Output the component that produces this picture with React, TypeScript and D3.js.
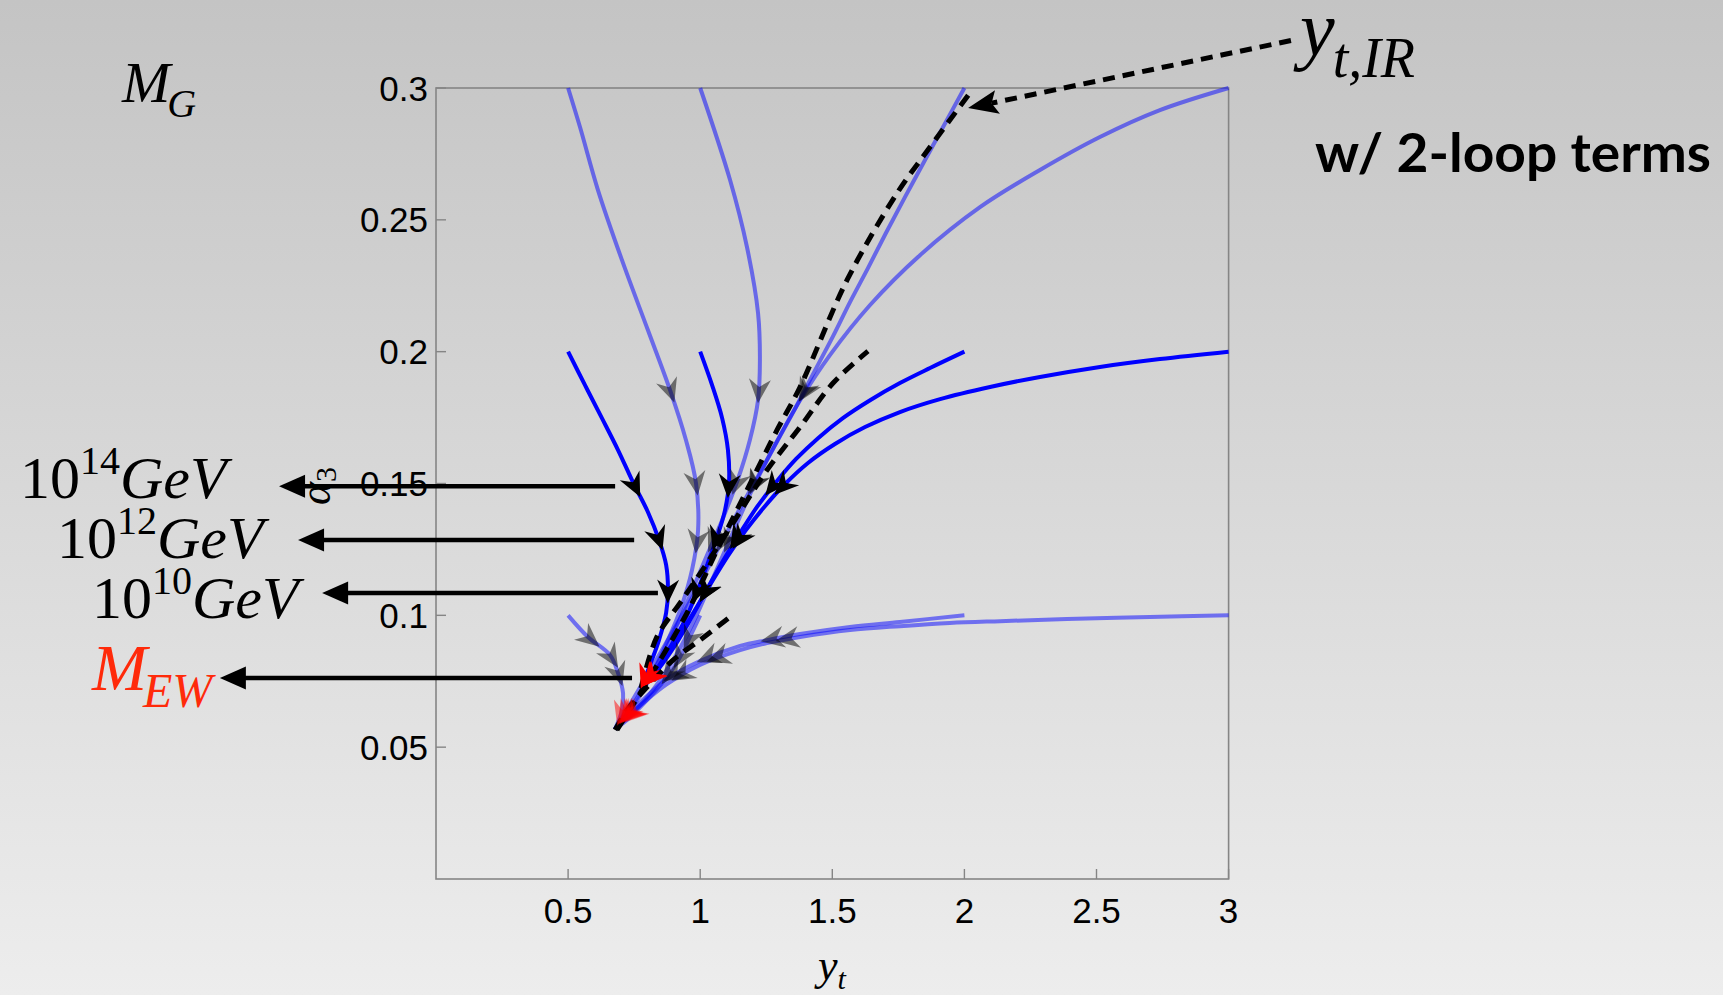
import React, { useEffect, useRef } from "react";
import * as d3 from "d3";

const W = 1723;
const H = 995;

const xTicks = [0.5, 1, 1.5, 2, 2.5, 3];
const xTickLabels = ["0.5", "1", "1.5", "2", "2.5", "3"];
const yTicks = [0.05, 0.1, 0.15, 0.2, 0.25, 0.3];
const yTickLabels = ["0.05", "0.1", "0.15", "0.2", "0.25", "0.3"];

// RG flows starting at alpha3(M_G) = 0.2 (solid blue)
const dark1 = [[0.5, 0.2], [0.564, 0.1873], [0.628, 0.1748], [0.689, 0.1627], [0.749, 0.1498], [0.802, 0.1392], [0.844, 0.1286], [0.871, 0.1191], [0.878, 0.1096], [0.871, 0.1009], [0.844, 0.0906], [0.810, 0.0812], [0.776, 0.0724]];
const dark2 = [[1.0, 0.2], [1.045, 0.1873], [1.083, 0.1748], [1.105, 0.1627], [1.109, 0.1502], [1.094, 0.1399], [1.064, 0.1297], [1.026, 0.1191], [0.988, 0.1088], [0.942, 0.0982], [0.889, 0.0884], [0.833, 0.0793], [0.776, 0.0724]];
const dark3 = [[2.0, 0.2], [1.870, 0.1938], [1.756, 0.1881], [1.643, 0.1816], [1.540, 0.1748], [1.446, 0.1672], [1.363, 0.1593], [1.287, 0.1505], [1.215, 0.1411], [1.151, 0.1312], [1.086, 0.1206], [1.022, 0.1092], [0.958, 0.0975], [0.893, 0.0868], [0.833, 0.0785], [0.776, 0.0724]];
const dark4 = [[3.0, 0.2], [2.740, 0.1972], [2.513, 0.1942], [2.286, 0.1904], [2.097, 0.1866], [1.908, 0.1820], [1.756, 0.1771], [1.624, 0.1714], [1.510, 0.1650], [1.408, 0.1578], [1.321, 0.1498], [1.245, 0.1414], [1.173, 0.1323], [1.105, 0.1225], [1.037, 0.1115], [0.969, 0.1001], [0.897, 0.0884], [0.833, 0.0789], [0.776, 0.0724]];

// flows starting at alpha3(M_G) = 0.3 (translucent)
const lightA = [[0.5, 0.3], [0.545, 0.2852], [0.613, 0.2613], [0.704, 0.2347], [0.802, 0.2082], [0.886, 0.1854], [0.946, 0.1665], [0.984, 0.1502], [0.992, 0.1323], [0.969, 0.1172], [0.931, 0.1039], [0.878, 0.0906], [0.810, 0.0762], [0.742, 0.0648], [0.678, 0.0569]];
const lightB = [[1.0, 0.3], [1.113, 0.2651], [1.177, 0.2397], [1.219, 0.2146], [1.226, 0.1968], [1.219, 0.1817], [1.188, 0.1665], [1.143, 0.1517], [1.083, 0.1361], [1.018, 0.1210], [0.954, 0.1058], [0.878, 0.0887], [0.791, 0.0736], [0.727, 0.0633], [0.678, 0.0569]];
const lightC = [[2.0, 0.3], [1.923, 0.2859], [1.851, 0.2727], [1.775, 0.2586], [1.703, 0.2450], [1.635, 0.2317], [1.567, 0.2188], [1.503, 0.2059], [1.435, 0.1930], [1.366, 0.1797], [1.294, 0.1665], [1.219, 0.1528], [1.143, 0.1392], [1.067, 0.1251], [0.992, 0.1107], [0.912, 0.0967], [0.833, 0.0830], [0.753, 0.0694], [0.678, 0.0569]];
const lightD = [[3.0, 0.3], [2.740, 0.2916], [2.513, 0.2814], [2.286, 0.2689], [2.059, 0.2548], [1.832, 0.2366], [1.643, 0.2177], [1.491, 0.1987], [1.378, 0.1816], [1.283, 0.1646], [1.196, 0.1475], [1.120, 0.1305], [1.045, 0.1134], [0.969, 0.0963], [0.886, 0.0812], [0.791, 0.0679], [0.678, 0.0569]];

// flows starting at alpha3(M_G) = 0.1 (translucent)
const low1 = [[0.5, 0.1], [0.575, 0.0918], [0.659, 0.0849], [0.689, 0.0781], [0.708, 0.0705], [0.704, 0.0641], [0.678, 0.0569]];
const low2 = [[1.0, 0.1], [0.961, 0.0918], [0.924, 0.0842], [0.874, 0.0766], [0.799, 0.0679], [0.723, 0.0603], [0.678, 0.0569]];
const low3 = [[2.0, 0.1], [1.756, 0.0975], [1.567, 0.0956], [1.378, 0.0929], [1.253, 0.0906], [1.151, 0.0884], [0.999, 0.0827], [0.874, 0.0758], [0.783, 0.0679], [0.715, 0.0614], [0.678, 0.0569]];
const low4 = [[3.0, 0.1], [2.702, 0.0994], [2.388, 0.0986], [2.135, 0.0978], [1.945, 0.0971], [1.756, 0.0959], [1.567, 0.0944], [1.378, 0.0918], [1.253, 0.0895], [1.151, 0.0868], [0.999, 0.0812], [0.874, 0.0739], [0.783, 0.0667], [0.715, 0.0607], [0.678, 0.0569]];

// IR quasi-fixed lines (dashed)
const ir03 = [[0.685, 0.0565], [0.810, 0.0766], [0.950, 0.1009], [1.064, 0.1248], [1.177, 0.1475], [1.291, 0.1703], [1.378, 0.1866], [1.556, 0.2272], [1.745, 0.2601], [1.870, 0.2776], [2.029, 0.2992]];
const ir02 = [[0.776, 0.0724], [0.836, 0.0918], [0.924, 0.1047], [1.026, 0.1198], [1.124, 0.1350], [1.253, 0.1551], [1.378, 0.1714], [1.503, 0.1881], [1.635, 0.2002]];
const ir01 = [[0.678, 0.0565], [0.723, 0.0641], [0.799, 0.0728], [0.897, 0.0830], [0.999, 0.0906], [1.113, 0.0994]];

const darkArrowLevels = [0.149, 0.129, 0.109];
const darkEndLevel = 0.0765;
const light03ArrowLevels = [0.185, 0.150, 0.128];
const light01ArrowLevels = [0.091, 0.084, 0.0775];
const lightEndLevel = 0.0625;

// scale annotation arrows (alpha level, tail yt, tip yt)
const scaleExponents = ["14", "12", "10"];
const scaleLevels = [0.149, 0.1286, 0.1085, 0.0762];
const scaleArrowTail = [0.678, 0.75, 0.84, 0.742];
const scaleArrowTip = [-0.594, -0.522, -0.431, -0.818];

// y_t,IR pointer (from label to line end), in data units
const irPointerFrom = [3.236, 0.318];
const irPointerTo = [2.014, 0.2924];

const SERIF = "'Liberation Serif', 'Times New Roman', serif";
const SANS = "'Liberation Sans', Arial, sans-serif";

export default function App() {
  const ref = useRef<SVGSVGElement | null>(null);

  useEffect(() => {
    const svg = d3.select(ref.current);
    svg.selectAll("*").remove();

    const x = d3.scaleLinear().domain([0, 3]).range([436, 1228.6]);
    const y = d3.scaleLinear().domain([0, 0.3]).range([879, 88]);

    const defs = svg.append("defs");
    const grad = defs.append("linearGradient").attr("id", "bg").attr("x1", 0).attr("y1", 0).attr("x2", 0).attr("y2", 1);
    grad.append("stop").attr("offset", "0%").attr("stop-color", "#c4c4c4");
    grad.append("stop").attr("offset", "100%").attr("stop-color", "#ededed");
    svg.append("rect").attr("width", W).attr("height", H).attr("fill", "url(#bg)");

    // frame
    svg.append("rect")
      .attr("x", x(0)).attr("y", y(0.3))
      .attr("width", x(3) - x(0)).attr("height", y(0) - y(0.3))
      .attr("fill", "none").attr("stroke", "#858585").attr("stroke-width", 1.6);

    const tickG = svg.append("g").attr("stroke", "#858585").attr("stroke-width", 1.4);
    yTicks.forEach((t) => {
      tickG.append("line").attr("x1", x(0)).attr("x2", x(0) + 10).attr("y1", y(t)).attr("y2", y(t));
    });
    xTicks.forEach((t) => {
      tickG.append("line").attr("x1", x(t)).attr("x2", x(t)).attr("y1", y(0)).attr("y2", y(0) - 10);
    });

    yTicks.forEach((t, i) => {
      svg.append("text").attr("x", x(0) - 8).attr("y", y(t) + 12.5)
        .attr("text-anchor", "end").attr("font-family", SANS).attr("font-size", 35)
        .attr("fill", "#000").text(yTickLabels[i]);
    });
    xTicks.forEach((t, i) => {
      svg.append("text").attr("x", x(t)).attr("y", 923)
        .attr("text-anchor", "middle").attr("font-family", SANS).attr("font-size", 35)
        .attr("fill", "#000").text(xTickLabels[i]);
    });

    // axis labels
    const xl = svg.append("text").attr("x", 832).attr("y", 980).attr("text-anchor", "middle")
      .attr("font-family", SERIF).attr("font-style", "italic").attr("font-size", 44);
    xl.append("tspan").text("y");
    xl.append("tspan").attr("font-size", 30).attr("dy", 9).text("t");

    const yl = svg.append("text").attr("transform", "translate(330,486) rotate(-90)")
      .attr("text-anchor", "middle").attr("font-family", SERIF).attr("font-size", 44);
    yl.append("tspan").attr("font-style", "italic").text("α");
    yl.append("tspan").attr("font-size", 30).attr("dy", 6).text("3");

    // curves
    const line = d3.line<number[]>().x((d) => x(d[0])).y((d) => y(d[1])).curve(d3.curveCatmullRom.alpha(0.5));
    const curvesG = svg.append("g");
    const arrowsG = svg.append("g");

    const drawCurve = (g: any, data: number[][], stroke: string, opacity: number, width: number, dash?: string) => {
      const p = g.append("path").attr("d", line(data as any)).attr("fill", "none")
        .attr("stroke", stroke).attr("stroke-opacity", opacity).attr("stroke-width", width)
        .attr("stroke-linecap", "butt").attr("stroke-linejoin", "round");
      if (dash) p.attr("stroke-dasharray", dash);
      return p.node() as SVGPathElement;
    };

    const at = (node: SVGPathElement, level: number) => {
      const ty = y(level);
      const total = node.getTotalLength();
      let lo = 0, hi = total;
      for (let i = 0; i < 40; i++) {
        const mid = (lo + hi) / 2;
        const p = node.getPointAtLength(mid);
        if (p.y < ty) lo = mid; else hi = mid;
      }
      const l = (lo + hi) / 2;
      const p = node.getPointAtLength(l);
      const p1 = node.getPointAtLength(Math.max(0, l - 3));
      const p2 = node.getPointAtLength(Math.min(total, l + 3));
      return { x: p.x, y: p.y, a: (Math.atan2(p2.y - p1.y, p2.x - p1.x) * 180) / Math.PI };
    };

    const head = (node: SVGPathElement, level: number, fill: string, opacity: number) => {
      const q = at(node, level);
      const L = 24, Wd = 22;
      arrowsG.append("path")
        .attr("d", `M${L / 2},0L${-L / 2},${-Wd / 2}L${-L * 0.18},0L${-L / 2},${Wd / 2}Z`)
        .attr("transform", `translate(${q.x},${q.y}) rotate(${q.a})`)
        .attr("fill", fill).attr("fill-opacity", opacity);
    };

    [lightA, lightB, lightC, lightD].forEach((c) => {
      const n = drawCurve(curvesG, c, "#0000ff", 0.5, 4);
      light03ArrowLevels.forEach((lv) => head(n, lv, "#000", 0.5));
      head(n, lightEndLevel, "#ff0000", 0.5);
    });
    [low1, low2, low3, low4].forEach((c) => {
      const n = drawCurve(curvesG, c, "#0000ff", 0.5, 4);
      light01ArrowLevels.forEach((lv) => head(n, lv, "#000", 0.5));
      head(n, lightEndLevel, "#ff0000", 0.5);
    });
    [dark1, dark2, dark3, dark4].forEach((c) => {
      const n = drawCurve(curvesG, c, "#0000ff", 1, 4);
      darkArrowLevels.forEach((lv) => head(n, lv, "#000", 1));
      head(n, darkEndLevel, "#ff0000", 1);
    });
    [ir03, ir02, ir01].forEach((c) => drawCurve(svg, c, "#000", 1, 5, "13,8"));

    svg.node()!.appendChild(arrowsG.node()!);

    // scale annotations
    const annG = svg.append("g");
    scaleLevels.forEach((lv, i) => {
      const yy = y(lv);
      const tip = x(scaleArrowTip[i]);
      const tail = x(scaleArrowTail[i]);
      annG.append("line").attr("x1", tip + 20).attr("x2", tail).attr("y1", yy).attr("y2", yy)
        .attr("stroke", "#000").attr("stroke-width", 4.5);
      annG.append("path").attr("d", `M${tip},${yy}L${tip + 26},${yy - 11.5}L${tip + 26},${yy + 11.5}Z`).attr("fill", "#000");
    });

    const rowX = [20, 57, 92];
    const rowBase = [498, 558, 618];
    scaleExponents.forEach((e, i) => {
      const t = svg.append("text").attr("x", rowX[i]).attr("y", rowBase[i])
        .attr("font-family", SERIF).attr("font-size", 60).attr("fill", "#000");
      t.append("tspan").text("10");
      t.append("tspan").attr("font-size", 40).attr("dy", -24).text(e);
      t.append("tspan").attr("font-style", "italic").attr("dy", 24).text("GeV");
    });

    const mew = svg.append("text").attr("x", 92).attr("y", 690)
      .attr("font-family", SERIF).attr("font-style", "italic").attr("font-size", 66).attr("fill", "#ff2a0a");
    mew.append("tspan").text("M");
    mew.append("tspan").attr("font-size", 48).attr("dy", 17).attr("dx", -4).text("EW");

    const mg = svg.append("text").attr("x", 122).attr("y", 102)
      .attr("font-family", SERIF).attr("font-style", "italic").attr("font-size", 58).attr("fill", "#000");
    mg.append("tspan").text("M");
    mg.append("tspan").attr("font-size", 40).attr("dy", 15).attr("dx", -3).text("G");

    // y_t,IR pointer
    const fx = x(irPointerFrom[0]), fy = y(irPointerFrom[1]);
    const tx = x(irPointerTo[0]), ty = y(irPointerTo[1]);
    const ang = Math.atan2(ty - fy, tx - fx);
    const hl = 30;
    const bx = tx - Math.cos(ang) * hl * 0.8, by = ty - Math.sin(ang) * hl * 0.8;
    svg.append("line").attr("x1", fx).attr("y1", fy).attr("x2", bx).attr("y2", by)
      .attr("stroke", "#000").attr("stroke-width", 5).attr("stroke-dasharray", "12,8");
    svg.append("path")
      .attr("d", `M0,0L${-hl},${-12}L${-hl * 0.8},0L${-hl},${12}Z`)
      .attr("transform", `translate(${tx},${ty}) rotate(${(ang * 180) / Math.PI})`)
      .attr("fill", "#000");

    const ir = svg.append("text").attr("x", 1300).attr("y", 55)
      .attr("font-family", SERIF).attr("font-style", "italic").attr("font-size", 78).attr("fill", "#000");
    ir.append("tspan").text("y");
    ir.append("tspan").attr("font-size", 56).attr("dy", 22).attr("dx", -2).text("t,IR");

    svg.append("text").attr("x", 1315).attr("y", 172)
      .attr("font-family", "Lato, 'Open Sans', sans-serif").attr("font-weight", 700).attr("font-size", 54)
      .attr("textLength", 396).attr("lengthAdjust", "spacingAndGlyphs").attr("fill", "#000")
      .text("w/ 2-loop terms");
  }, []);

  return (
    <svg
      ref={ref}
      width={W}
      height={H}
      viewBox={`0 0 ${W} ${H}`}
      style={{ position: "absolute", left: 0, top: 0, display: "block" }}
    />
  );
}
